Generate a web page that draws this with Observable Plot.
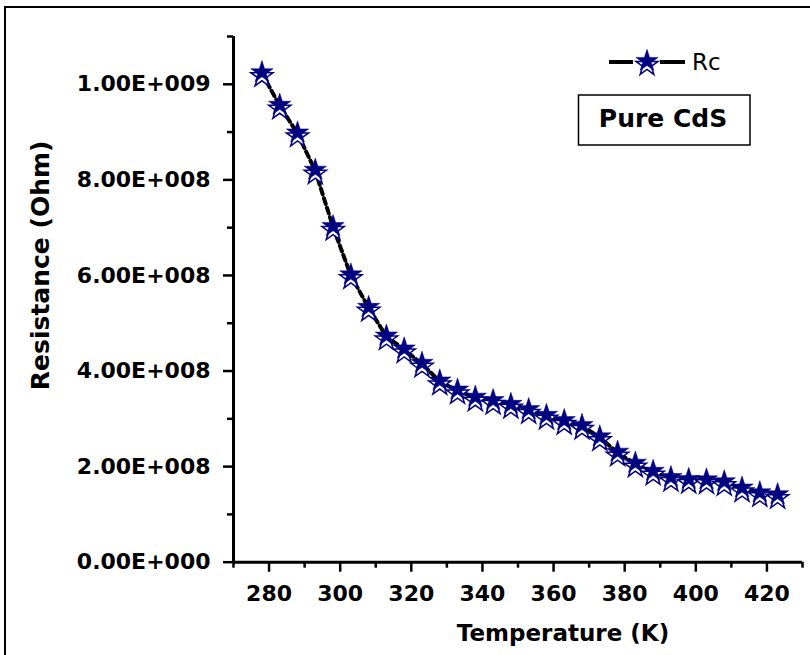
<!DOCTYPE html>
<html><head><meta charset="utf-8">
<script src="https://cdn.jsdelivr.net/npm/d3@7"></script>
<script src="https://cdn.jsdelivr.net/npm/@observablehq/plot@0.6"></script>
<style>
body{margin:0;background:#fff;}
#chart{position:relative;width:810px;height:655px;}
</style>
</head><body><div id="chart"></div>
<script>
const temperature = [278,283,288,293,298,303,308,313,318,323,328,333,338,343,348,353,358,363,368,373,378,383,388,393,398,403,408,413,418,423];
const resistance = [1.023e9,9.55e8,8.97e8,8.19e8,7.01e8,6.00e8,5.32e8,4.72e8,4.45e8,4.15e8,3.78e8,3.59e8,3.44e8,3.37e8,3.29e8,3.18e8,3.06e8,2.95e8,2.85e8,2.61e8,2.29e8,2.06e8,1.89e8,1.76e8,1.72e8,1.71e8,1.67e8,1.54e8,1.44e8,1.40e8];
const xMajorTicks = [280,300,320,340,360,380,400,420];
const xMinorTicks = [270,290,310,330,350,370,390,410,430];
const yMajorTicks = [0,2e8,4e8,6e8,8e8,1e9];
const yMinorTicks = [1e8,3e8,5e8,7e8,9e8,1.1e9];
const seriesName = "Rc";
const sampleLabel = "Pure CdS";
const xLabel = "Temperature (K)";
const yLabel = "Resistance (Ohm)";

const data = temperature.map((t, i) => ({t, r: resistance[i]}));

function formatE(v) {
  if (v === 0) return "0.00E+000";
  const e = Math.floor(Math.log10(v) + 1e-9);
  const m = v / Math.pow(10, e);
  return m.toFixed(2) + "E+" + String(e).padStart(3, "0");
}

const navy = "#000080";
const R = 7;

const plot = Plot.plot({
  width: 810, height: 655,
  marginLeft: 233, marginRight: 8, marginTop: 36, marginBottom: 93.3,
  x: {domain: [270, 430]},
  y: {domain: [0, 1.1e9]},
  style: {fontFamily: "'DejaVu Sans', sans-serif", fontSize: "22px", fontWeight: "bold", color: "black", background: "white", overflow: "visible"},
  marks: [
    Plot.axisX({ticks: xMinorTicks, tickSize: 6, tickFormat: () => "", strokeWidth: 2.5, label: null}),
    Plot.axisX({ticks: xMajorTicks, tickSize: 10, tickPadding: 13, tickFormat: d => String(d), strokeWidth: 2.5, label: null}),
    Plot.axisY({ticks: yMinorTicks, tickSize: 6, tickFormat: () => "", strokeWidth: 2.5, label: null}),
    Plot.axisY({ticks: yMajorTicks, tickSize: 10, tickPadding: 13, tickFormat: formatE, strokeWidth: 2.5, label: null}),
    Plot.ruleY([0], {strokeWidth: 3}),
    Plot.ruleX([270], {strokeWidth: 3}),
    Plot.line(data, {x: "t", y: "r", stroke: "black", strokeWidth: 4, strokeDasharray: "6,4"}),
    Plot.dot(data, {x: "t", y: "r", symbol: "star", r: R, fill: "white", stroke: navy, strokeWidth: 1.5, dy: 3}),
    Plot.dot(data, {x: "t", y: "r", symbol: "star", r: R, fill: navy, stroke: navy, strokeWidth: 0.5, dy: -1}),
    Plot.text([xLabel], {text: d => d, frameAnchor: "bottom", dx: 45, dy: 79, fontSize: 23, fontWeight: "bold"}),
    Plot.text([yLabel], {text: d => d, frameAnchor: "left", textAnchor: "middle", rotate: -90, dx: -193, dy: -34, fontSize: 25, fontWeight: "bold"})
  ]
});

document.getElementById("chart").appendChild(plot);

const svg = d3.select(plot);
// outer frame
svg.append("path").attr("d", "M5,655V7H810").attr("fill", "none").attr("stroke", "black").attr("stroke-width", 2);
// legend
const lg = svg.append("g").attr("text-anchor", "start");
lg.append("path").attr("d", "M609,62H633M660,62H685").attr("stroke", "black").attr("stroke-width", 4).attr("fill", "none");
const starPath = d3.symbol(d3.symbolStar, R * R * Math.PI)();
lg.append("path").attr("d", starPath).attr("transform", "translate(647,65)").attr("fill", "white").attr("stroke", navy).attr("stroke-width", 1.5);
lg.append("path").attr("d", starPath).attr("transform", "translate(647,61)").attr("fill", navy).attr("stroke", navy).attr("stroke-width", 0.5);
lg.append("text").attr("x", 692).attr("y", 62).attr("dy", "0.36em").attr("text-anchor", "start").attr("font-size", 23).attr("font-weight", "normal").attr("fill", "black").text(seriesName);
// sample box
lg.append("rect").attr("x", 578.5).attr("y", 95).attr("width", 171.5).attr("height", 50).attr("fill", "none").attr("stroke", "black").attr("stroke-width", 1.5);
lg.append("text").attr("x", 663).attr("y", 118).attr("dy", "0.36em").attr("text-anchor", "middle").attr("font-size", 25).attr("font-weight", "bold").attr("fill", "black").text(sampleLabel);
</script>
</body></html>
